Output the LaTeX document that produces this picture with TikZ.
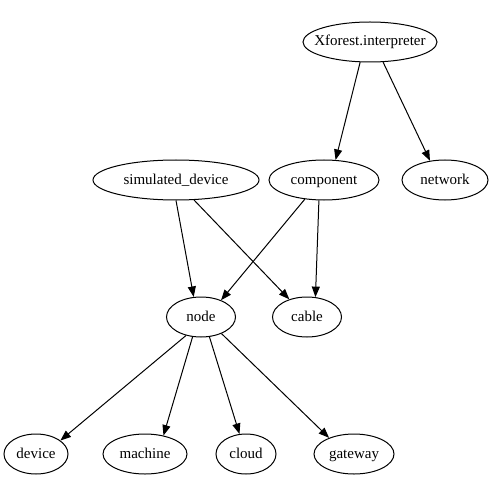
\documentclass[tikz,border=0pt]{standalone}
\usepackage{fontspec}
\setmainfont{Liberation Serif}
\usetikzlibrary{shapes.geometric,arrows.meta}
\begin{document}
\begin{tikzpicture}[x=1pt,y=-1pt,
  gnode/.style={draw,ellipse,line width=1pt,inner sep=0pt,minimum height=40pt,
    label={[font=\fontsize{15}{17}\selectfont,inner sep=0pt,text height=11.5pt,text depth=3.5pt]center:#1}},
  edge/.style={draw,line width=1pt,-{Triangle[length=10.5pt,width=8pt]}}]
\useasboundingbox (0,0) rectangle (494,494);
\node[gnode={Xforest.interpreter},minimum width=134pt] (xf) at (370,42) {};
\node[gnode={component},minimum width=110pt] (comp) at (324,180) {};
\node[gnode={network},minimum width=86pt] (net) at (445,180) {};
\node[gnode={simulated\_device},minimum width=166pt] (sim) at (176,180) {};
\node[gnode={node},minimum width=69pt] (nd) at (201,317) {};
\node[gnode={cable},minimum width=69pt] (cab) at (307,317) {};
\node[gnode={device},minimum width=64pt] (dev) at (36,454) {};
\node[gnode={machine},minimum width=84pt] (mach) at (145,454) {};
\node[gnode={cloud},minimum width=60pt] (cld) at (246,454) {};
\node[gnode={gateway},minimum width=80pt] (gw) at (354,454) {};
\draw[edge] (xf.-116.6) -- (comp.60);
\draw[edge] (xf.-57) -- (net.128);
\draw[edge] (sim.-90) -- (nd.110);
\draw[edge] (sim.-48) -- (cab.135);
\draw[edge] (comp.-135) -- (nd.40);
\draw[edge] (comp.-104) -- (cab.67);
\draw[edge] (nd.-129) -- (dev.29);
\draw[edge] (nd.-113) -- (mach.45);
\draw[edge] (nd.-67) -- (cld.108);
\draw[edge] (nd.-39) -- (gw.147);
\end{tikzpicture}
\end{document}
